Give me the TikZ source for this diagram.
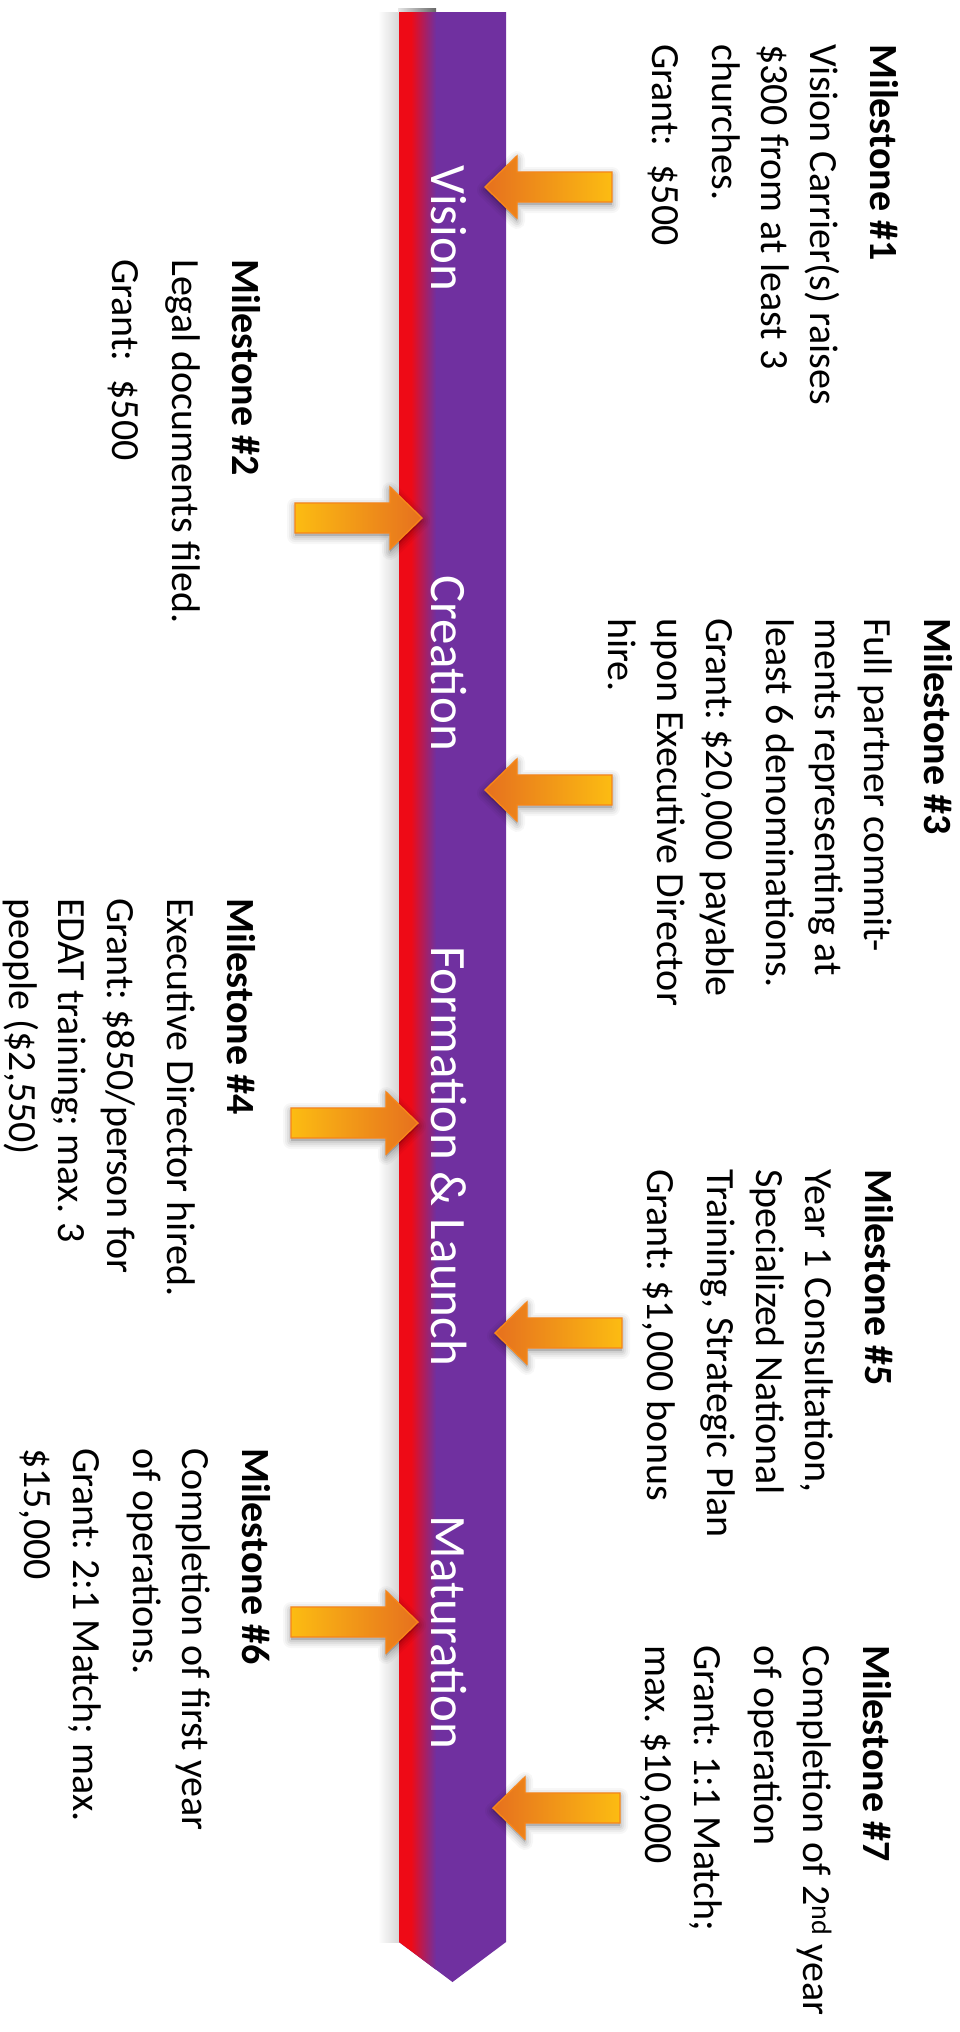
\documentclass[tikz,border=0pt]{standalone}
\usepackage{fontspec}
\setmainfont{Carlito}
\frenchspacing
\definecolor{barred}{RGB}{238,10,22}
\definecolor{barpurple}{RGB}{112,48,160}
\definecolor{arrowyellow}{RGB}{252,188,18}
\definecolor{arroworange}{RGB}{230,112,30}
\definecolor{arrowedge}{RGB}{247,133,25}
\newcommand\MSblock[1]{\vtop{\baselineskip=49pt\lineskiplimit=-60pt\lineskip=0pt #1}}
\newcommand\MSl[1]{\hbox{#1}}
\newcommand\MSgap{\vskip 11pt}
\tikzset{
  mstext/.style={rotate=-90, anchor=base west, inner sep=0pt, text=black,
    font=\fontsize{40}{49}\selectfont},
  phase/.style={rotate=-90, anchor=base west, inner sep=0pt, text=white,
    font=\fontsize{51}{61}\selectfont},
  ashadow/.style={black, opacity=#1, line join=round, fill=black, fill opacity=0.04},
  marrowL/.pic={
    \foreach \w/\o in {16/0.03,12/0.04,8/0.05,4/0.06}{
      \draw[ashadow=\o, line width=\w pt]
        (0,3) -- (32,-28) -- (32,-12) -- (127,-12) -- (127,18) -- (32,18) -- (32,34) -- cycle;
    }
    \path[left color=arroworange, right color=arrowyellow, draw=arrowedge, line width=1.4pt]
      (0,0) -- (32,-31) -- (32,-15) -- (127,-15) -- (127,15) -- (32,15) -- (32,31) -- cycle;
    \coordinate (-tip) at (0,0);
  },
  marrowR/.pic={
    \foreach \w/\o in {16/0.03,12/0.04,8/0.05,4/0.06}{
      \draw[ashadow=\o, line width=\w pt]
        (0,3) -- (-32,-28) -- (-32,-12) -- (-127,-12) -- (-127,18) -- (-32,18) -- (-32,34) -- cycle;
    }
    \path[left color=arrowyellow, right color=arroworange, draw=arrowedge, line width=1.4pt]
      (0,0) -- (-32,-31) -- (-32,-15) -- (-127,-15) -- (-127,15) -- (-32,15) -- (-32,31) -- cycle;
    \coordinate (-tip) at (0,0);
  }
}
\begin{document}
\begin{tikzpicture}[x=1pt, y=-1pt]
\useasboundingbox (0,0) rectangle (959,2032);
\fill[white] (0,0) rectangle (959,2032);
% soft shadow left of the bar
\shade[left color=white, right color=black!16] (378,12) rectangle (399,1942);
\shade[left color=black!10, right color=black!60] (398,8) rectangle (436,12);
% the timeline bar
\begin{scope}
  \clip (399,12) -- (506,12) -- (506,1942) -- (452.5,1982) -- (399,1942) -- cycle;
  \fill[barpurple] (395,0) rectangle (510,1990);
  \fill[barred] (395,0) rectangle (411,1990);
  \shade[left color=barred, right color=barpurple] (411,0) rectangle (436,1990);
\end{scope}
% phase labels
\node[phase] (pv) at (431,165) {Vision};
\node[phase] (pc) at (431,575) {Creation};
\node[phase] (pf) at (431,946) {Formation \& Launch};
\node[phase] (pm) at (431,1515) {Maturation};
% milestones
\node[mstext] (m1) at (870,44) {\MSblock{\MSl{\bfseries Milestone \#1}\MSgap
  \MSl{Vision Carrier(s) raises}\MSl{\$300 from at least 3}\MSl{churches.}\MSgap
  \MSl{Grant:\ \ \$500}}};
\node[mstext] (m2) at (232,259) {\MSblock{\MSl{\bfseries Milestone \#2}\MSgap
  \MSl{Legal documents filed.}\MSgap
  \MSl{Grant:\ \ \$500}}};
\node[mstext] (m3) at (924,618) {\MSblock{\MSl{\bfseries Milestone \#3}\MSgap
  \MSl{Full partner commit-}\MSl{ments representing at}\MSl{least 6 denominations.}\MSgap
  \MSl{Grant: \$20,000 payable}\MSl{upon Executive Director}\MSl{hire.}}};
\node[mstext] (m4) at (227,898) {\MSblock{\MSl{\bfseries Milestone \#4}\MSgap
  \MSl{Executive Director hired.}\MSgap
  \MSl{Grant: \$850/person for}\MSl{EDAT training; max. 3}\MSl{people (\$2,550)}}};
\node[mstext] (m5) at (865,1169) {\MSblock{\MSl{\bfseries Milestone \#5}\MSgap
  \MSl{Year 1 Consultation,}\MSl{Specialized National}\MSl{Training, Strategic Plan}\MSgap
  \MSl{Grant: \$1,000 bonus}}};
\node[mstext] (m6) at (242,1448) {\MSblock{\MSl{\bfseries Milestone \#6}\MSgap
  \MSl{Completion of first year}\MSl{of operations.}\MSgap
  \MSl{Grant: 2:1 Match; max.}\MSl{\$15,000}}};
\node[mstext] (m7) at (863,1645) {\MSblock{\MSl{\bfseries Milestone \#7}\MSgap
  \MSl{Completion of 2\textsuperscript{nd} year}\MSl{of operation}\MSgap
  \MSl{Grant: 1:1 Match;}\MSl{max. \$10,000}}};
% milestone arrows
\pic (a1) at (485,187) {marrowL};
\pic (a2) at (422,518) {marrowR};
\pic (a3) at (485,790) {marrowL};
\pic (a4) at (418,1123) {marrowR};
\pic (a5) at (495,1333) {marrowL};
\pic (a6) at (418,1622) {marrowR};
\pic (a7) at (493,1808) {marrowL};
\end{tikzpicture}
\end{document}
